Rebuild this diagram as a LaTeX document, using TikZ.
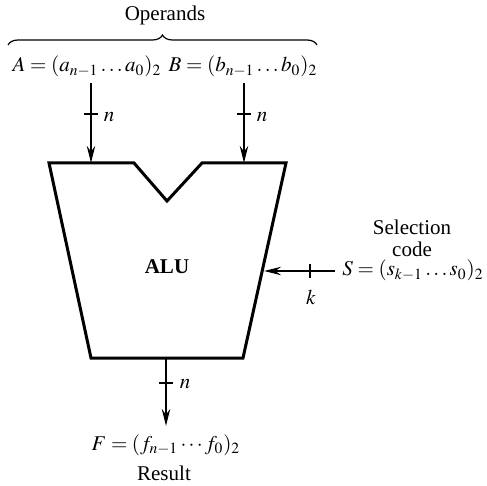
\documentclass[tikz,border=0pt]{standalone}
\usepackage{mathptmx}
\usepackage{fontspec}
\setmainfont{Liberation Serif}
\usetikzlibrary{arrows.meta,decorations.pathreplacing}
\begin{document}
\begin{tikzpicture}[x=0.5pt,y=-0.5pt,
  font=\fontsize{10.5}{12}\selectfont,
  lbl/.style={inner sep=0pt, anchor=center},
  sig/.style={line width=1.1pt, -{Stealth[length=8.5pt,width=4.2pt]}},
  tick/.style={line width=0.8pt},
  alu/.style={line width=1.5pt, line join=miter}]
\useasboundingbox (0,0) rectangle (487,486);
% ALU outline corners
\coordinate (tl) at (49,163);
\coordinate (v1) at (134,163);
\coordinate (vb) at (167,201);
\coordinate (v2) at (202,163);
\coordinate (tr) at (286,163);
\coordinate (br) at (243,358);
\coordinate (bl) at (91,358);
\draw[alu] (tl) -- (v1) -- (vb) -- (v2) -- (tr) -- (br) -- (bl) -- cycle;
\node[lbl] (alu) at (167,267) {\textbf{ALU}};
% inputs on the outline
\coordinate (ain) at (91,163);
\coordinate (bin) at (244,163);
\coordinate (sin) at (264,271);
\coordinate (fout) at (166,358);
% Operands
\node[lbl] (ops) at (165,15) {Operands};
\coordinate (brl) at (8,45);
\coordinate (brr) at (317,45);
\draw[line width=0.6pt, decorate, decoration={brace, amplitude=5pt}] (brl) -- (brr);
\node[lbl, anchor=base] (A) at (87,72) {$A=(a_{n-1}\ldots a_0)_2$};
\node[lbl, anchor=base] (B) at (243,72) {$B=(b_{n-1}\ldots b_0)_2$};
\coordinate (atop) at (91,83);
\coordinate (btop) at (244,83);
\draw[sig] (atop) -- (ain);
\draw[sig] (btop) -- (bin);
\draw[tick] (84,114) -- (98,114);
\draw[tick] (237,114) -- (251,114);
\node[lbl] (na) at (109,117) {$n$};
\node[lbl] (nb) at (262,117) {$n$};
% Selection code
\node[lbl] (sel1) at (412,227) {Selection};
\node[lbl] (sel2) at (412,249) {code};
\node[lbl, anchor=base east] (S) at (484,276) {$\thickmuskip=4mu S=(s_{k-1}\ldots s_0)_2$};
\coordinate (sstart) at (335,271);
\draw[sig] (sstart) -- (sin);
\draw[tick] (310,264) -- (310,278);
\node[lbl] (k) at (311,297) {$k$};
% Output
\coordinate (fend) at (166,426);
\draw[sig] (fout) -- (fend);
\draw[tick] (159,383) -- (173,383);
\node[lbl] (nf) at (185,384) {$n$};
\node[lbl, anchor=base] (F) at (166,450) {$F=(f_{n-1}\cdots f_0)_2$};
\node[lbl] (res) at (164,473) {Result};
\end{tikzpicture}
\end{document}
